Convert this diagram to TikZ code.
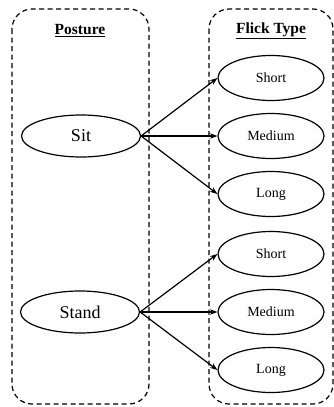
\documentclass[tikz,border=0pt]{standalone}
\usepackage{fontspec}
\setmainfont{Liberation Serif}
\usetikzlibrary{arrows.meta,shapes.geometric}
\begin{document}
\begin{tikzpicture}[x=1pt,y=-1pt,
  grp/.style={draw,dashed,dash pattern=on 5pt off 3.5pt,line width=1.2pt,rounded corners=20pt},
  big/.style={draw,ellipse,line width=1.2pt,minimum width=119pt,minimum height=42pt,inner sep=0pt,font=\fontsize{18}{20}\selectfont},
  small/.style={draw,ellipse,line width=1.2pt,minimum width=106pt,minimum height=45pt,inner sep=0pt,font=\fontsize{14}{16}\selectfont},
  ttl/.style={font=\bfseries\fontsize{15.5}{17}\selectfont},
  arr/.style={-{Stealth[length=7.5pt,width=5.5pt]},line width=1.2pt}]
\useasboundingbox (0,0) rectangle (334,407);
\draw[grp] (12,9) rectangle (149,404);
\draw[grp] (209,9) rectangle (333,404);
\node[ttl] (posture) at (80,31) {\underline{Posture}};
\node[ttl] (flick) at (271,31) {\underline{Flick Type}};
\node[big] (sit) at (81,136) {Sit};
\node[big] (stand) at (80,312) {Stand};
\node[small] (s1) at (271,78) {Short};
\node[small] (m1) at (271,136) {Medium};
\node[small] (l1) at (271,194) {Long};
\node[small] (s2) at (271,254) {Short};
\node[small] (m2) at (271,312) {Medium};
\node[small] (l2) at (271,370) {Long};
\foreach \t in {s1,m1,l1} \draw[arr] (sit.east) -- (\t.west);
\foreach \t in {s2,m2,l2} \draw[arr] (stand.east) -- (\t.west);
\end{tikzpicture}
\end{document}
